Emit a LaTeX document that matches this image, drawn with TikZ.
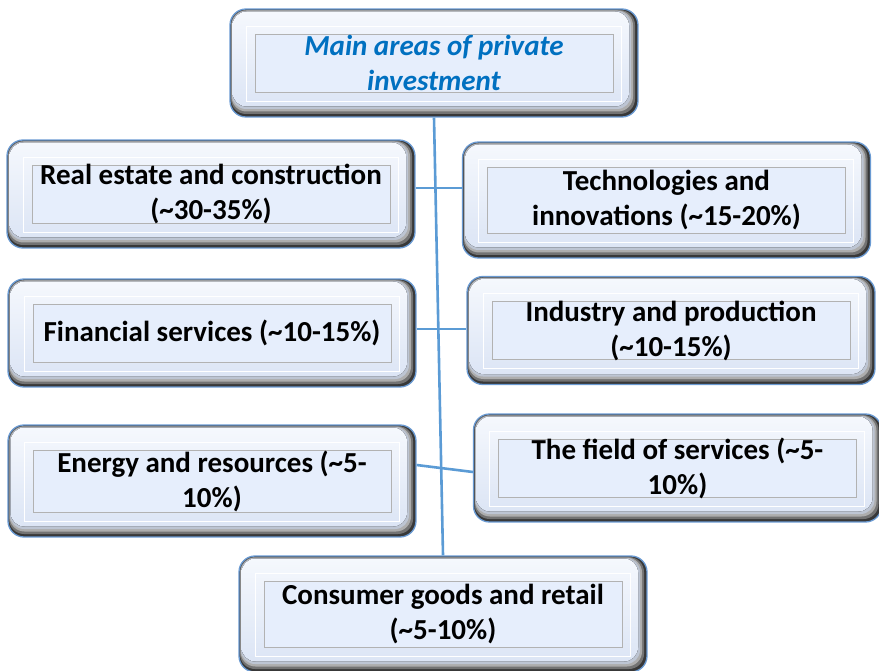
\documentclass[tikz,border=0pt]{standalone}
\usepackage{fontspec}
\setmainfont{Carlito}
\usetikzlibrary{calc,positioning}
\definecolor{linkblue}{HTML}{5B9BD5}
\definecolor{edgeblue}{HTML}{6A9AD2}
\definecolor{boxtop}{HTML}{F5F8FD}
\definecolor{boxface}{HTML}{DCE5F5}
\definecolor{innerblue}{HTML}{E6EEFC}
\definecolor{titleblue}{HTML}{0070C0}

\tikzset{
    areabox/.style={draw=edgeblue, line width=1.3pt, rounded corners=16pt,
        minimum width=408pt, minimum height=108pt, inner sep=0pt, align=center,
        font=\fontsize{29}{35}\selectfont\bfseries,
        path picture={
            \coordinate (pnw) at (path picture bounding box.north west);
            \coordinate (pse) at (path picture bounding box.south east);
            \fill[black!78, sharp corners] (pnw) rectangle (pse);
            \fill[black!55, rounded corners=15pt] ($(pnw)+(1,1)$) rectangle ($(pse)+(-3,-3)$);
            \fill[black!32, rounded corners=15pt] ($(pnw)+(1.5,1.5)$) rectangle ($(pse)+(-5,-5.5)$);
            \fill[black!14!boxface, rounded corners=14pt] ($(pnw)+(2,2)$) rectangle ($(pse)+(-7,-8)$);
            \fill[top color=boxtop, bottom color=boxface, rounded corners=14pt] ($(pnw)+(2.5,2.5)$) rectangle ($(pse)+(-9,-10.5)$);
            \draw[white, line width=0.8pt, sharp corners] ($(pnw)+(16,17)$) rectangle ($(pse)+(-17,-16)$);
            \draw[black!30, fill=innerblue, line width=0.8pt, sharp corners] ($(pnw)+(25,25)$) rectangle ($(pse)+(-25,-25)$);
        }},
    link/.style={draw=linkblue, line width=2.6pt}
}

\begin{document}
\begin{tikzpicture}[x=1pt, y=-1pt]
    \useasboundingbox (0,0) rectangle (879,671);

    \node (main) [areabox, text=titleblue, font=\fontsize{29}{35}\selectfont\bfseries\itshape] at (434,63) {Main areas of private\\investment};
    \node (estate) [areabox] at (211,194) {Real estate and construction\\(\textasciitilde30-35\%)};
    \node (tech) [areabox, minimum height=116pt] at (666.5,200) {Technologies and\\innovations (\textasciitilde15-20\%)};
    \node (finance) [areabox] at (212,333) {Financial services (\textasciitilde10-15\%)};
    \node (industry) [areabox] at (671,330.5) {Industry and production\\(\textasciitilde10-15\%)};
    \node (energy) [areabox, minimum height=112pt] at (212,481) {Energy and resources (\textasciitilde5-\\10\%)};
    \node (services) [areabox] at (677.5,468) {The field of services (\textasciitilde5-\\10\%)};
    \node (consumer) [areabox, minimum height=116pt] at (443,614) {Consumer goods and retail\\(\textasciitilde5-10\%)};

    \draw [link] (main.south) -- (consumer.north);
    \draw [link] ([yshift=6pt]estate.east) -- ([yshift=12pt]tech.west);
    \draw [link] ([yshift=4pt]finance.east) -- ([yshift=1.5pt]industry.west);
    \draw [link] ([yshift=16pt]energy.east) -- ([yshift=-4pt]services.west);
\end{tikzpicture}
\end{document}
